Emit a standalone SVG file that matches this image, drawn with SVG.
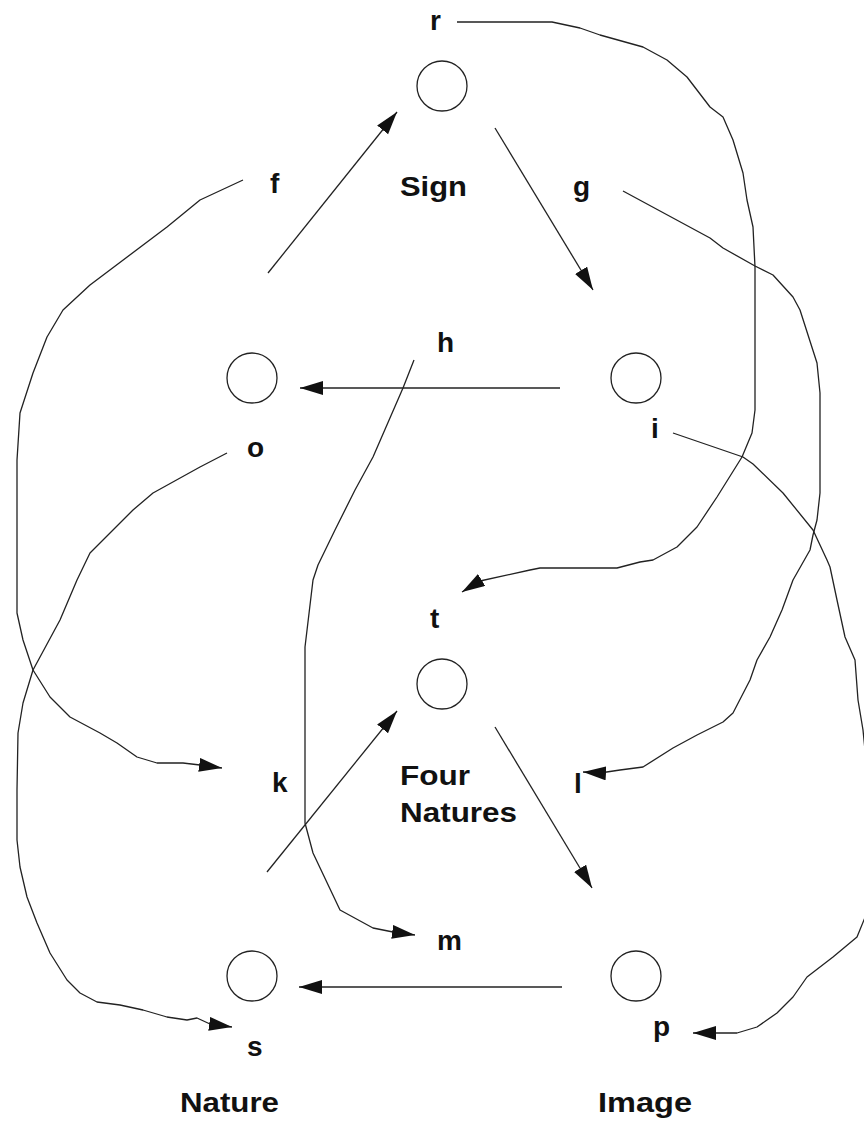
<svg xmlns="http://www.w3.org/2000/svg" width="864" height="1122" viewBox="0 0 864 1122">
<defs>
<style>
.node{fill:none;stroke:#222;stroke-width:1.3}
.lbl{font-family:"Liberation Sans",Arial,sans-serif;font-weight:bold;font-size:28px;fill:#111}
.c{fill:none;stroke:#222;stroke-width:1.3;stroke-linejoin:round;marker-end:url(#ah)}
</style>
<marker id="ah" markerUnits="userSpaceOnUse" markerWidth="26" markerHeight="16" refX="23" refY="7" orient="auto">
<path d="M0,0 L23,7 L0,14 z" fill="#111"/>
</marker>
</defs>
<rect width="864" height="1122" fill="#fff"/>

<g id="connectors">
<line class="c" x1="268" y1="273" x2="397" y2="112"/>
<line class="c" x1="495" y1="128" x2="593" y2="290"/>
<line class="c" x1="560" y1="388" x2="300" y2="388"/>
<line class="c" x1="267" y1="872" x2="397" y2="711"/>
<line class="c" x1="495" y1="727" x2="592" y2="888"/>
<line class="c" x1="562" y1="987" x2="299" y2="987"/>
<polyline class="c" points="457,22 552,22 580,28 600,35 643,47 667,60 687,77 710,107 723,117 733,140 743,173 747,200 753,227 755,267 755,410 752,433 742,457 717,497 697,527 677,547 653,560 640,562 617,568 540,568 530,570 480,581 462,592"/>
<polyline class="c" points="623,191 710,238 723,248 755,266 773,275 793,297 800,310 817,363 820,393 820,493 817,520 813,535 810,550 793,580 782,610 770,637 757,660 750,680 733,713 723,722 697,735 673,748 643,767 620,770 600,773 583,772"/>
<polyline class="c" points="673,433 743,457 753,464 783,493 813,530 827,560 830,567 837,600 845,637 855,660 858,700 863,730 867,770 869,850 866,915 857,937 833,957 807,977 793,997 777,1013 757,1027 737,1033 693,1033"/>
<polyline class="c" points="243,180 200,200 167,227 90,285 63,310 47,337 33,373 20,413 17,460 17,613 23,640 33,670 50,697 70,717 100,733 117,743 137,757 157,763 183,763 200,765 222,768"/>
<polyline class="c" points="227,453 200,467 153,493 133,510 90,553 77,580 60,620 33,670 23,703 18,733 17,790 17,840 20,867 27,897 37,923 50,953 67,980 80,993 97,1002 120,1005 143,1010 167,1017 187,1020 197,1018 210,1024 232,1027"/>
<polyline class="c" points="414,360 403,388 373,457 355,490 335,530 318,565 313,580 305,647 305,780 305,823 313,853 340,910 373,928 393,932 415,935"/>
</g>

<g id="node-sign">
<circle class="node" cx="442" cy="86" r="25"/>
<text class="lbl" x="430" y="30">r</text>
<text class="lbl" x="400" y="196" textLength="67" lengthAdjust="spacingAndGlyphs">Sign</text>
</g>
<g id="node-o">
<circle class="node" cx="252" cy="378" r="25"/>
<text class="lbl" x="247" y="457">o</text>
</g>
<g id="node-i">
<circle class="node" cx="636" cy="378" r="25"/>
<text class="lbl" x="651" y="438">i</text>
</g>
<g id="node-four-natures">
<circle class="node" cx="442" cy="684" r="25"/>
<text class="lbl" x="430" y="628">t</text>
<text class="lbl" x="400" y="785" textLength="70" lengthAdjust="spacingAndGlyphs">Four</text>
<text class="lbl" x="400" y="822" textLength="117" lengthAdjust="spacingAndGlyphs">Natures</text>
</g>
<g id="node-nature">
<circle class="node" cx="252" cy="976" r="25"/>
<text class="lbl" x="247" y="1056">s</text>
<text class="lbl" x="180" y="1112" textLength="99" lengthAdjust="spacingAndGlyphs">Nature</text>
</g>
<g id="node-image">
<circle class="node" cx="636" cy="976" r="25"/>
<text class="lbl" x="653" y="1036">p</text>
<text class="lbl" x="598" y="1112" textLength="94" lengthAdjust="spacingAndGlyphs">Image</text>
</g>
<g id="labels">
<text class="lbl" x="270" y="193">f</text>
<text class="lbl" x="573" y="196">g</text>
<text class="lbl" x="437" y="352">h</text>
<text class="lbl" x="272" y="792">k</text>
<text class="lbl" x="574" y="793">l</text>
<text class="lbl" x="437" y="950">m</text>
</g>
</svg>
